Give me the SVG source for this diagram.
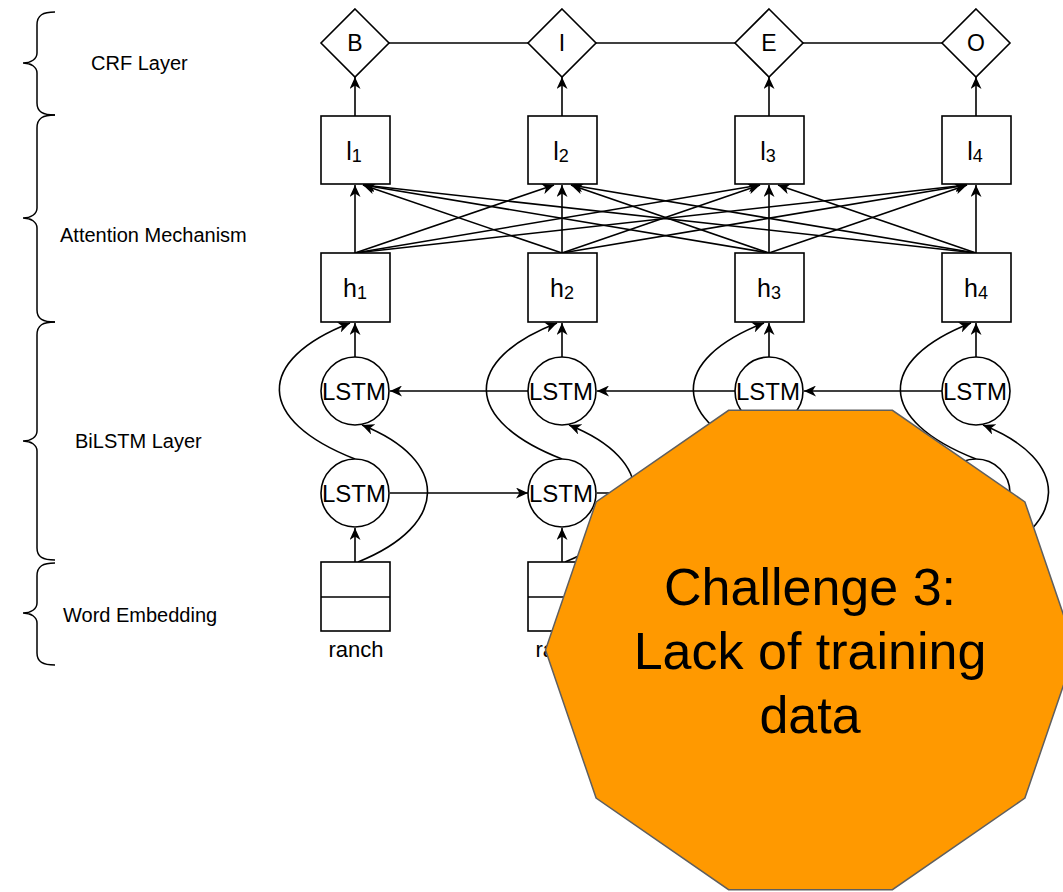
<svg xmlns="http://www.w3.org/2000/svg" width="1063" height="892" viewBox="0 0 1063 892">
<defs>
<marker id="arr" viewBox="0 0 12 11" refX="12" refY="5.5" markerWidth="12" markerHeight="11" markerUnits="userSpaceOnUse" orient="auto">
<path d="M0,0 L12,5.5 L0,11 L3.5,5.5 Z" fill="#000"/>
</marker>
</defs>
<style>
.ln{fill:none;stroke:#000;stroke-width:1.6}
.ar{fill:none;stroke:#000;stroke-width:1.6;marker-end:url(#arr)}
.nd{fill:#fff;stroke:#000;stroke-width:1.6}
.t{font-family:"Liberation Sans",Arial,sans-serif;fill:#000}
.lab{font-size:20px}
.big{font-size:25px;text-anchor:middle}
.dia{font-size:23px;text-anchor:middle}
.sub{font-size:18px}
.lstm{font-size:24px;text-anchor:middle}
.word{font-size:22px;text-anchor:middle}
.brace{fill:none;stroke:#000;stroke-width:1.5}
</style>
<rect width="1063" height="892" fill="#fff"/>

<g id="braces">
<path class="brace" d="M55,12 C43,12 37,15 37,25 L37,53 C37,59 31,63 23,63 C31,63 37,67 37,73 L37,103 C37,112 43,115 55,115"/>
<path class="brace" d="M55,115 C43,115 37,118 37,128 L37,208 C37,214 31,218 23,218 C31,218 37,222 37,228 L37,310 C37,319 43,322 55,322"/>
<path class="brace" d="M55,322 C43,322 37,325 37,335 L37,431 C37,437 31,441 23,441 C31,441 37,445 37,451 L37,548 C37,557 43,560 55,560"/>
<path class="brace" d="M55,563 C43,563 37,566 37,576 L37,603 C37,609 31,613 23,613 C31,613 37,617 37,623 L37,653 C37,662 43,665 55,665"/>
</g>
<g id="layer-labels">
<text class="t lab" x="91" y="70">CRF Layer</text>
<text class="t lab" x="60" y="242">Attention Mechanism</text>
<text class="t lab" x="75" y="448">BiLSTM Layer</text>
<text class="t lab" x="63" y="622">Word Embedding</text>
</g>

<g id="connectors">
<line class="ln" x1="389" y1="43" x2="528" y2="43"/>
<line class="ln" x1="596" y1="43" x2="735" y2="43"/>
<line class="ln" x1="803" y1="43" x2="942" y2="43"/>
<line class="ar" x1="355" y1="116" x2="355" y2="77"/>
<line class="ar" x1="562" y1="116" x2="562" y2="77"/>
<line class="ar" x1="769" y1="116" x2="769" y2="77"/>
<line class="ar" x1="976" y1="116" x2="976" y2="77"/>
<line class="ar" x1="355" y1="253" x2="355" y2="185"/>
<line class="ar" x1="562" y1="253" x2="363" y2="185"/>
<line class="ar" x1="769" y1="253" x2="363" y2="185"/>
<line class="ar" x1="976" y1="253" x2="363" y2="185"/>
<line class="ar" x1="355" y1="253" x2="554" y2="185"/>
<line class="ar" x1="562" y1="253" x2="562" y2="185"/>
<line class="ar" x1="769" y1="253" x2="571" y2="185"/>
<line class="ar" x1="976" y1="253" x2="571" y2="185"/>
<line class="ar" x1="355" y1="253" x2="760" y2="185"/>
<line class="ar" x1="562" y1="253" x2="760" y2="185"/>
<line class="ar" x1="769" y1="253" x2="769" y2="185"/>
<line class="ar" x1="976" y1="253" x2="778" y2="185"/>
<line class="ar" x1="355" y1="253" x2="967" y2="185"/>
<line class="ar" x1="562" y1="253" x2="967" y2="185"/>
<line class="ar" x1="769" y1="253" x2="967" y2="185"/>
<line class="ar" x1="976" y1="253" x2="976" y2="185"/>
<line class="ar" x1="355" y1="357" x2="355" y2="323"/>
<line class="ar" x1="562" y1="357" x2="562" y2="323"/>
<line class="ar" x1="769" y1="357" x2="769" y2="323"/>
<line class="ar" x1="976" y1="357" x2="976" y2="323"/>
<line class="ar" x1="355" y1="562" x2="355" y2="528"/>
<line class="ar" x1="562" y1="562" x2="562" y2="528"/>
<line class="ar" x1="769" y1="562" x2="769" y2="528"/>
<line class="ar" x1="976" y1="562" x2="976" y2="528"/>
<line class="ar" x1="528" y1="391" x2="390" y2="391"/>
<line class="ar" x1="735" y1="391" x2="597" y2="391"/>
<line class="ar" x1="942" y1="391" x2="804" y2="391"/>
<line class="ar" x1="390" y1="493" x2="528" y2="493"/>
<line class="ar" x1="597" y1="493" x2="735" y2="493"/>
<line class="ar" x1="804" y1="493" x2="942" y2="493"/>
<path class="ar" d="M355,459 C255,420 255,360 350,323"/>
<path class="ar" d="M562,459 C462,420 462,360 557,323"/>
<path class="ar" d="M769,459 C669,420 669,360 764,323"/>
<path class="ar" d="M976,459 C876,420 876,360 971,323"/>
<path class="ar" d="M358,562 C450,525 450,460 362,425"/>
<path class="ar" d="M565,562 C657,525 657,460 569,425"/>
<path class="ar" d="M772,562 C864,525 864,460 776,425"/>
<path class="ar" d="M979,562 C1071,525 1071,460 983,425"/>
</g>

<g id="crf-B"><polygon class="nd" points="355,9 389,43 355,77 321,43"/><text class="t dia" x="355" y="51">B</text></g>
<g id="crf-I"><polygon class="nd" points="562,9 596,43 562,77 528,43"/><text class="t dia" x="562" y="51">I</text></g>
<g id="crf-E"><polygon class="nd" points="769,9 803,43 769,77 735,43"/><text class="t dia" x="769" y="51">E</text></g>
<g id="crf-O"><polygon class="nd" points="976,9 1010,43 976,77 942,43"/><text class="t dia" x="976" y="51">O</text></g>

<g id="l1"><rect class="nd" x="321" y="116" width="69" height="68"/><text class="t big" x="354" y="160">l<tspan class="sub" dy="2">1</tspan></text></g>
<g id="l2"><rect class="nd" x="528" y="116" width="69" height="68"/><text class="t big" x="561" y="160">l<tspan class="sub" dy="2">2</tspan></text></g>
<g id="l3"><rect class="nd" x="735" y="116" width="69" height="68"/><text class="t big" x="768" y="160">l<tspan class="sub" dy="2">3</tspan></text></g>
<g id="l4"><rect class="nd" x="942" y="116" width="69" height="68"/><text class="t big" x="975" y="160">l<tspan class="sub" dy="2">4</tspan></text></g>

<g id="h1"><rect class="nd" x="321" y="253" width="69" height="69"/><text class="t big" x="355" y="297">h<tspan class="sub" dy="2">1</tspan></text></g>
<g id="h2"><rect class="nd" x="528" y="253" width="69" height="69"/><text class="t big" x="562" y="297">h<tspan class="sub" dy="2">2</tspan></text></g>
<g id="h3"><rect class="nd" x="735" y="253" width="69" height="69"/><text class="t big" x="769" y="297">h<tspan class="sub" dy="2">3</tspan></text></g>
<g id="h4"><rect class="nd" x="942" y="253" width="69" height="69"/><text class="t big" x="976" y="297">h<tspan class="sub" dy="2">4</tspan></text></g>

<g id="lstm-b1"><circle class="nd" cx="355" cy="391" r="34"/><text class="t lstm" x="354" y="400">LSTM</text></g>
<g id="lstm-b2"><circle class="nd" cx="562" cy="391" r="34"/><text class="t lstm" x="561" y="400">LSTM</text></g>
<g id="lstm-b3"><circle class="nd" cx="769" cy="391" r="34"/><text class="t lstm" x="768" y="400">LSTM</text></g>
<g id="lstm-b4"><circle class="nd" cx="976" cy="391" r="34"/><text class="t lstm" x="975" y="400">LSTM</text></g>

<g id="lstm-f1"><circle class="nd" cx="355" cy="493" r="34"/><text class="t lstm" x="354" y="502">LSTM</text></g>
<g id="lstm-f2"><circle class="nd" cx="562" cy="493" r="34"/><text class="t lstm" x="561" y="502">LSTM</text></g>
<g id="lstm-f3"><circle class="nd" cx="769" cy="493" r="34"/></g>
<g id="lstm-f4"><circle class="nd" cx="976" cy="493" r="34"/></g>

<g id="emb1"><rect class="nd" x="321" y="562" width="69" height="69"/><line class="ln" x1="321" y1="597" x2="390" y2="597"/><text class="t word" x="356" y="657">ranch</text></g>
<g id="emb2"><rect class="nd" x="528" y="562" width="69" height="69"/><line class="ln" x1="528" y1="597" x2="597" y2="597"/><text class="t word" x="563" y="657">ranch</text></g>

<g id="challenge">
<polygon points="1075.5,650 1024.9,501.9 892.4,410.3 728.6,410.3 596.1,501.9 545.5,650 596.1,798.1 728.6,889.7 892.4,889.7 1024.9,798.1" fill="#ff9900" stroke="#5f5f5f" stroke-width="1.5"/>
<text class="t" x="810" y="605" font-size="52" text-anchor="middle">Challenge 3:</text>
<text class="t" x="810" y="669" font-size="52" text-anchor="middle">Lack of training</text>
<text class="t" x="810" y="733" font-size="52" text-anchor="middle">data</text>
</g>
</svg>
